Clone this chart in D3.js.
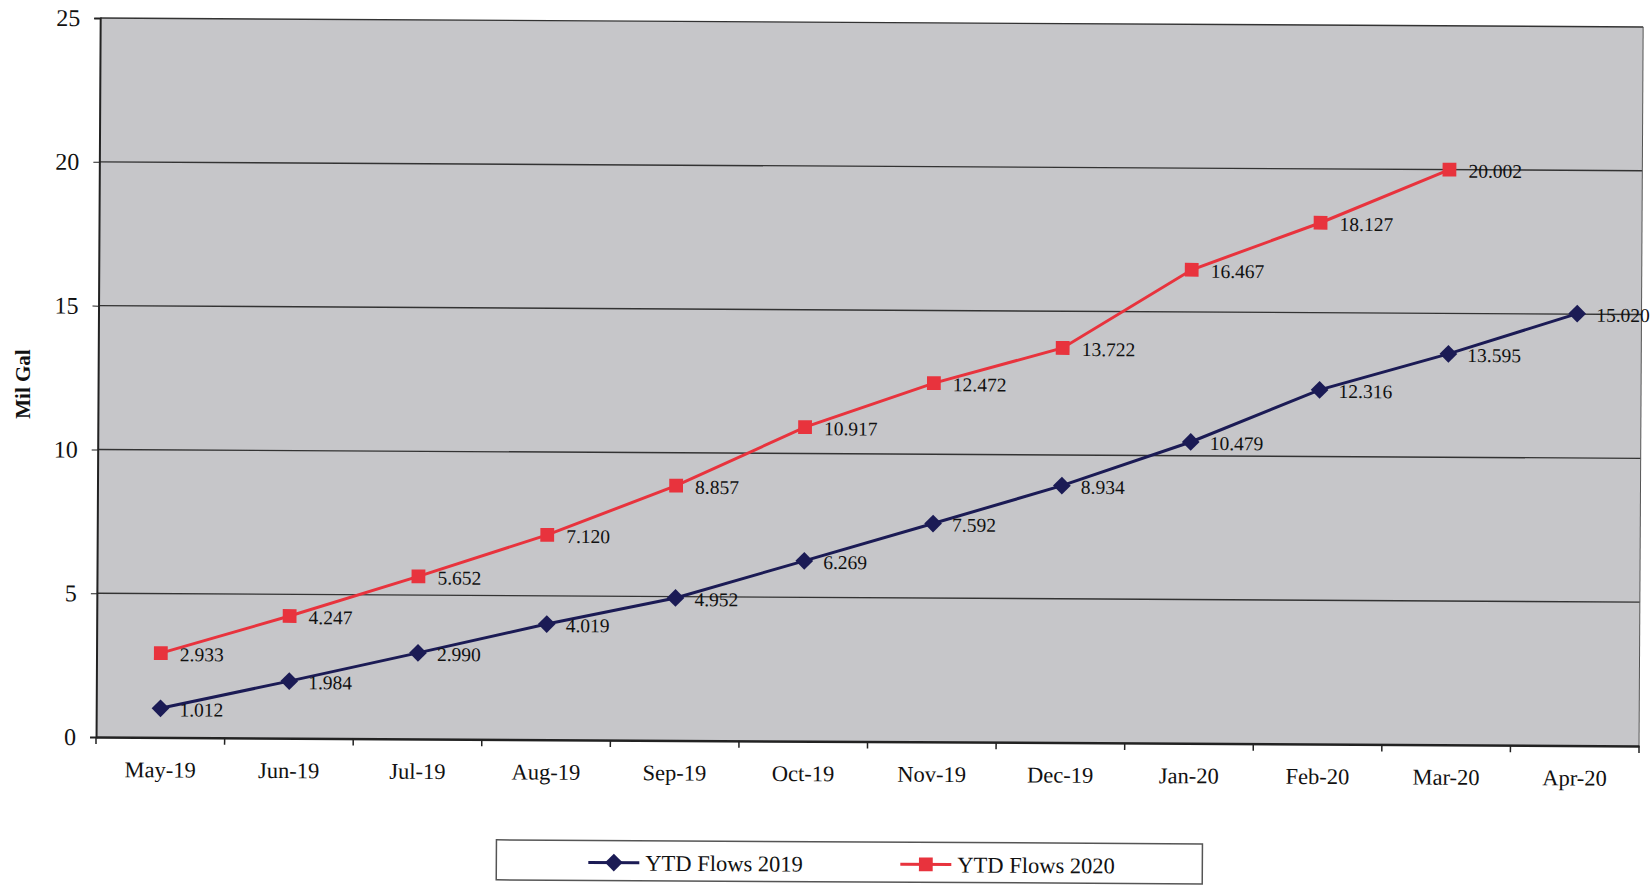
<!DOCTYPE html>
<html><head><meta charset="utf-8">
<script src="https://cdn.jsdelivr.net/npm/d3@7"></script>
<style>body{margin:0;background:#fff}svg{display:block}</style>
</head><body>
<script>
const categories = ["May-19","Jun-19","Jul-19","Aug-19","Sep-19","Oct-19","Nov-19","Dec-19","Jan-20","Feb-20","Mar-20","Apr-20"];
const flows2019 = [1.012,1.984,2.990,4.019,4.952,6.269,7.592,8.934,10.479,12.316,13.595,15.020];
const flows2020 = [2.933,4.247,5.652,7.120,8.857,10.917,12.472,13.722,16.467,18.127,20.002];
const yTicks = [0,5,10,15,20,25];
const seriesNames = ["YTD Flows 2019","YTD Flows 2020"];

const W=1650,H=886;
const m={left:98,top:22.5,right:1650-1641,bottom:886-741.5};
const iw=W-m.left-m.right, ih=H-m.top-m.bottom;
const svg=d3.select("body").append("svg").attr("width",W).attr("height",H);
const root=svg.append("g").attr("transform","rotate(0.33,870,400)");
const g=root.append("g").attr("transform",`translate(${m.left},${m.top})`);
const x=d3.scaleBand().domain(categories).range([0,iw]);
const y=d3.scaleLinear().domain([0,25]).range([ih,0]);
const font="'Liberation Serif','Times New Roman',serif";

g.append("rect").attr("width",iw).attr("height",ih).attr("fill","#c6c6c9");
g.selectAll(".grid").data(yTicks.filter(d=>d>0)).join("line")
 .attr("x1",0).attr("x2",iw).attr("y1",d=>y(d)).attr("y2",d=>y(d))
 .attr("stroke","#333").attr("stroke-width",1.4);
g.append("line").attr("x1",iw).attr("x2",iw).attr("y1",0).attr("y2",ih).attr("stroke","#555").attr("stroke-width",1);

const ya=g.append("g").call(d3.axisLeft(y).tickValues(yTicks).tickSize(6).tickPadding(14));
ya.select(".domain").attr("stroke","#222").attr("stroke-width",2);
ya.selectAll(".tick line").attr("stroke","#222");
ya.selectAll("text").attr("font-family",font).attr("font-size",24).attr("fill","#111");

const xa=g.append("g").attr("transform",`translate(0,${ih})`)
 .call(d3.axisBottom(x).tickSize(0).tickPadding(24));
xa.select(".domain").attr("stroke","#222").attr("stroke-width",2.5);
xa.selectAll("text").attr("font-family",font).attr("font-size",22.5).attr("fill","#111");
g.append("g").selectAll("line").data(d3.range(categories.length+1)).join("line")
 .attr("x1",i=>i*x.step()).attr("x2",i=>i*x.step()).attr("y1",ih).attr("y2",ih+7)
 .attr("stroke","#222").attr("stroke-width",1.5);

svg.append("text").attr("transform","translate(30,384) rotate(-90)")
 .attr("text-anchor","middle").attr("font-family",font).attr("font-weight","bold")
 .attr("font-size",21).attr("fill","#111").text("Mil Gal");

const cx=(d,i)=>x(categories[i])+x.bandwidth()/2;
const series=[
 {name:seriesNames[0],data:flows2019,color:"#1b1b55",shape:d3.symbolDiamond2,size:200},
 {name:seriesNames[1],data:flows2020,color:"#e8333d",shape:d3.symbolSquare,size:190}
];
series.forEach(s=>{
  const line=d3.line().x(cx).y(d=>y(d));
  g.append("path").datum(s.data).attr("d",line).attr("fill","none").attr("stroke",s.color).attr("stroke-width",3);
  g.selectAll(null).data(s.data).join("path")
   .attr("transform",(d,i)=>`translate(${cx(d,i)},${y(d)})`)
   .attr("d",d3.symbol().type(s.shape).size(s.size)).attr("fill",s.color);
  g.selectAll(null).data(s.data).join("text")
   .attr("x",(d,i)=>cx(d,i)+19).attr("y",d=>y(d)+8)
   .attr("font-family",font).attr("font-size",19.5).attr("fill","#111")
   .text(d=>d3.format(".3f")(d));
});

// legend
const lg=root.append("g");
lg.append("rect").attr("x",499).attr("y",842).attr("width",706).attr("height",40)
 .attr("fill","#fff").attr("stroke","#555").attr("stroke-width",1.5);
const lx=[591,903];
series.forEach((s,i)=>{
  lg.append("line").attr("x1",lx[i]).attr("x2",lx[i]+51).attr("y1",864).attr("y2",864).attr("stroke",s.color).attr("stroke-width",3);
  lg.append("path").attr("transform",`translate(${lx[i]+25.5},864)`).attr("d",d3.symbol().type(s.shape).size(s.size)).attr("fill",s.color);
  lg.append("text").attr("x",lx[i]+57).attr("y",872).attr("font-family",font).attr("font-size",22.5).attr("fill","#111").text(s.name);
});
</script>
</body></html>
